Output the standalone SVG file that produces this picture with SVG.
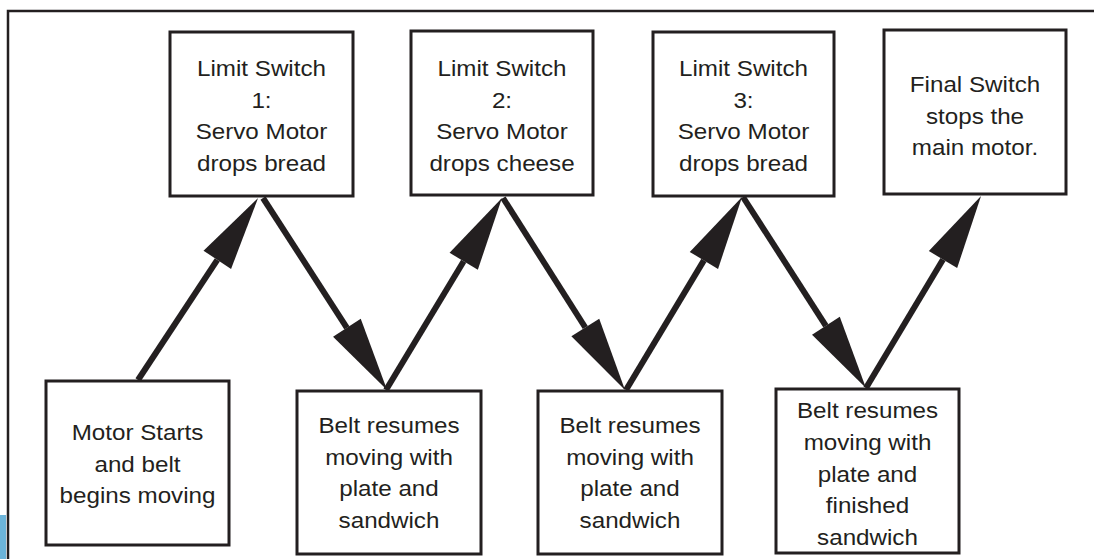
<svg xmlns="http://www.w3.org/2000/svg" width="1094" height="559" viewBox="0 0 1094 559">
<style>
.box{fill:#fff;stroke:#231f20;stroke-width:3}
.lbl{font-family:"Liberation Sans",Arial,sans-serif;font-size:22px;fill:#231f20;text-anchor:middle}
.conn{stroke:#231f20;stroke-width:6;fill:none;marker-end:url(#ah)}
</style>
<defs>
<marker id="ah" markerUnits="userSpaceOnUse" viewBox="0 -17 75 34" markerWidth="75" markerHeight="34" refX="0" refY="0" orient="auto" overflow="visible">
<path d="M0,-16.5 L74,0 L0,16.5 Z" fill="#231f20"/>
</marker>
</defs>
<rect width="1094" height="559" fill="#fff"/>
<rect x="0" y="515" width="6" height="44" fill="#6cb4d9"/>
<path d="M8,559 V11 H1094" fill="none" stroke="#231f20" stroke-width="2.5"/>
<g id="connectors">
<line class="conn" x1="138" y1="380" x2="217.3" y2="259.8"/>
<line class="conn" x1="263" y1="198" x2="346.9" y2="327.8"/>
<line class="conn" x1="386" y1="390" x2="463.7" y2="261.3"/>
<line class="conn" x1="503" y1="198" x2="585.3" y2="327.5"/>
<line class="conn" x1="626" y1="390" x2="703.9" y2="260.4"/>
<line class="conn" x1="743" y1="197" x2="825.9" y2="325.8"/>
<line class="conn" x1="866" y1="388" x2="943" y2="259.5"/>
</g>
<g id="n_start">
<rect class="box" x="46" y="381" width="183" height="164"/>
<text class="lbl" transform="translate(137.5,0) scale(1.1,1)"><tspan x="0" y="440">Motor Starts</tspan><tspan x="0" y="471.7">and belt</tspan><tspan x="0" y="503.4">begins moving</tspan></text>
</g>
<g id="n_ls1">
<rect class="box" x="170" y="32" width="183" height="164"/>
<text class="lbl" transform="translate(261.5,0) scale(1.1,1)"><tspan x="0" y="76">Limit Switch</tspan><tspan x="0" y="107.7">1:</tspan><tspan x="0" y="139.4">Servo Motor</tspan><tspan x="0" y="171">drops bread</tspan></text>
</g>
<g id="n_belt1">
<rect class="box" x="297" y="391" width="184" height="163"/>
<text class="lbl" transform="translate(389,0) scale(1.1,1)"><tspan x="0" y="433">Belt resumes</tspan><tspan x="0" y="464.7">moving with</tspan><tspan x="0" y="496.4">plate and</tspan><tspan x="0" y="528">sandwich</tspan></text>
</g>
<g id="n_ls2">
<rect class="box" x="411" y="31" width="182" height="164"/>
<text class="lbl" transform="translate(502,0) scale(1.1,1)"><tspan x="0" y="76">Limit Switch</tspan><tspan x="0" y="107.7">2:</tspan><tspan x="0" y="139.4">Servo Motor</tspan><tspan x="0" y="171">drops cheese</tspan></text>
</g>
<g id="n_belt2">
<rect class="box" x="538" y="391" width="184" height="163"/>
<text class="lbl" transform="translate(630,0) scale(1.1,1)"><tspan x="0" y="433">Belt resumes</tspan><tspan x="0" y="464.7">moving with</tspan><tspan x="0" y="496.4">plate and</tspan><tspan x="0" y="528">sandwich</tspan></text>
</g>
<g id="n_ls3">
<rect class="box" x="653" y="32" width="181" height="164"/>
<text class="lbl" transform="translate(743.5,0) scale(1.1,1)"><tspan x="0" y="76">Limit Switch</tspan><tspan x="0" y="107.7">3:</tspan><tspan x="0" y="139.4">Servo Motor</tspan><tspan x="0" y="171">drops bread</tspan></text>
</g>
<g id="n_belt3">
<rect class="box" x="776" y="389" width="183" height="164"/>
<text class="lbl" transform="translate(867.5,0) scale(1.1,1)"><tspan x="0" y="418.3">Belt resumes</tspan><tspan x="0" y="450">moving with</tspan><tspan x="0" y="481.7">plate and</tspan><tspan x="0" y="513.4">finished</tspan><tspan x="0" y="545">sandwich</tspan></text>
</g>
<g id="n_final">
<rect class="box" x="884" y="30" width="182" height="164"/>
<text class="lbl" transform="translate(975,0) scale(1.1,1)"><tspan x="0" y="92">Final Switch</tspan><tspan x="0" y="123.7">stops the</tspan><tspan x="0" y="155.4">main motor.</tspan></text>
</g>
</svg>
